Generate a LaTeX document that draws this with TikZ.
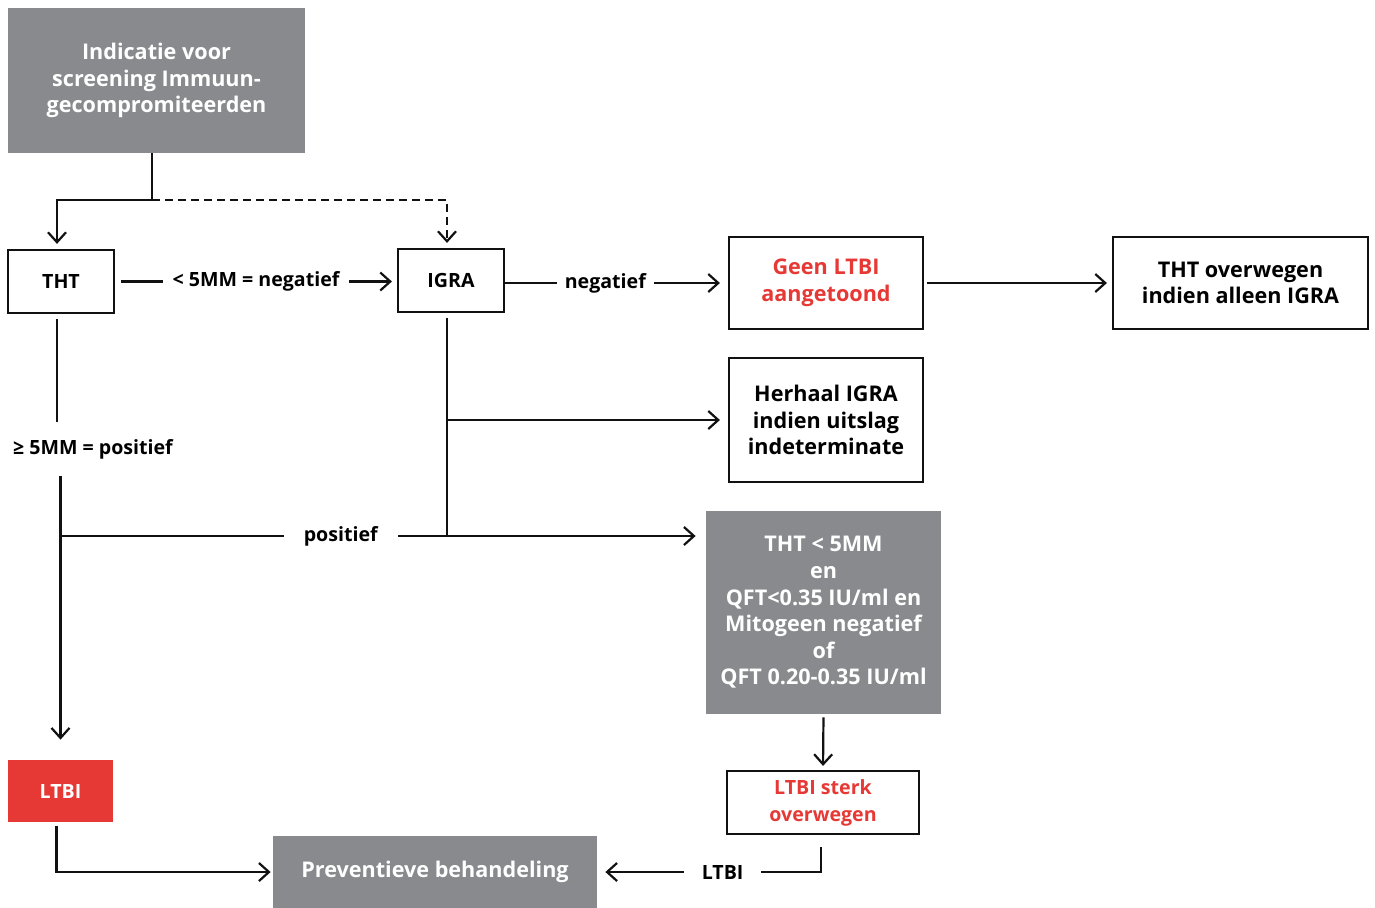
\documentclass[tikz,border=0pt]{standalone}
\usepackage{fontspec}
\setmainfont{Open Sans}
\usetikzlibrary{arrows.meta}
\definecolor{flowgray}{HTML}{898A8D}
\definecolor{flowred}{HTML}{E63935}
\definecolor{flowfg}{HTML}{111111}

\begin{document}
\begin{tikzpicture}[x=0.5pt,y=-0.5pt,>={Straight Barb[length=5pt,width=9pt]}]
  \tikzstyle{big}=[font=\bfseries\fontsize{10.8}{13.3}\selectfont, align=center]
  \tikzstyle{small}=[font=\bfseries\fontsize{9.8}{13.5}\selectfont, align=center]
  \tikzstyle{greybox}=[fill=flowgray, text=white, inner sep=0pt]
  \tikzstyle{redbox}=[fill=flowred, text=white, inner sep=0pt]
  \tikzstyle{linebox}=[draw=flowfg, line width=1.1pt, fill=white, inner sep=0pt]
  \tikzstyle{link}=[draw=flowfg, line width=1.1pt]
  \tikzstyle{flow}=[link, ->, shorten >=2.5pt]
  \tikzstyle{gap}=[small, fill=white, inner ysep=2pt]

  \path[use as bounding box] (0,0) rectangle (1375,907);

  % Boxes, placed at their centres (pixel grid of the original chart).
  \node[greybox, big, minimum width=148.5pt, minimum height=72.5pt] (indic) at (156.5,80.5)
    {Indicatie voor\\screening Immuun-\\gecompromiteerden};
  \node[linebox, small, minimum width=53pt, minimum height=31.5pt] (tht) at (61,281.5) {THT};
  \node[linebox, small, minimum width=53pt, minimum height=31.5pt] (igra) at (451,280.5) {IGRA};
  \node[linebox, big, text=flowred, minimum width=97pt, minimum height=46pt] (geen) at (826,283)
    {Geen LTBI\\aangetoond};
  \node[linebox, big, minimum width=127.5pt, minimum height=46pt] (thto) at (1240.5,283)
    {THT overwegen\\indien alleen IGRA};
  \node[linebox, big, minimum width=97pt, minimum height=62pt] (herhaal) at (826,420)
    {Herhaal IGRA\\indien uitslag\\indeterminate};
  \node[greybox, big, minimum width=117.5pt, minimum height=101.5pt] (qft) at (823.5,612.5)
    {THT < 5MM\\en\\QFT<0.35 IU/ml en\\Mitogeen negatief\\of\\QFT 0.20-0.35 IU/ml};
  \node[linebox, small, text=flowred, minimum width=96pt, minimum height=31.5pt] (sterk) at (823,802.5)
    {LTBI sterk\\overwegen};
  \node[redbox, small, minimum width=52.5pt, minimum height=31pt] (ltbi) at (60.5,791) {LTBI};
  \node[greybox, big, minimum width=162pt, minimum height=36pt] (prev) at (435,872)
    {Preventieve behandeling};

  \node[small, anchor=west] (lge) at (6,449) {≥ 5MM = positief};
  \coordinate (split) at (152,200);
  \coordinate (posrow) at (61,536);

  % Start: THT always, IGRA optional.
  \draw[flow] (indic.south -| split) -- (split) -| ([xshift=-2pt]tht.north);
  \draw[flow, dash pattern=on 4pt off 2.5pt] (split) -| ([xshift=-2pt]igra.north);

  % THT negative -> IGRA
  \draw[flow, shorten <=3pt] (tht.east) -- node[gap, inner xsep=5pt] (lneg) {< 5MM = negatief} (tht.east -| igra.west);

  % IGRA outcomes
  \draw[flow, shorten >=4pt] (igra.east |- geen.west) -- node[gap, pos=0.45, inner xsep=4pt] (lneg2) {negatief} (geen.west);
  \draw[flow, shorten <=1.5pt] (geen) -- (thto);
  \draw[link, shorten <=2.5pt] ([xshift=-2pt]igra.south) -- ([xshift=-2pt]igra.south |- posrow);
  \draw[flow, shorten >=4pt] ([xshift=-2pt]igra.south |- herhaal.west) -- (herhaal.west);

  % THT positive -> LTBI, and positive row
  \draw[link, shorten <=2.5pt] ([xshift=-2pt]tht.south) -- ([xshift=-2pt,yshift=5pt]tht.south |- lge.north);
  \draw[flow, shorten >=10pt] ([yshift=-5pt]lge.south -| ltbi.north) -- (ltbi.north);
  \draw[flow, shorten >=5pt] (posrow) -- node[gap, pos=0.434, inner xsep=10pt] (lpos) {positief} (posrow -| qft.west);

  % Towards treatment
  \draw[flow, shorten <=1.5pt, shorten >=2pt] (qft.south) -- (sterk.north);
  \draw[flow, shorten >=1pt] ([xshift=-2pt,yshift=-2pt]ltbi.south) |- (prev.west);
  \draw[flow, shorten >=4pt] ([xshift=-1pt,yshift=-6pt]sterk.south) |- node[gap, pos=0.72, inner xsep=9pt] (lltbi) {LTBI} (prev.east);
\end{tikzpicture}
\end{document}
